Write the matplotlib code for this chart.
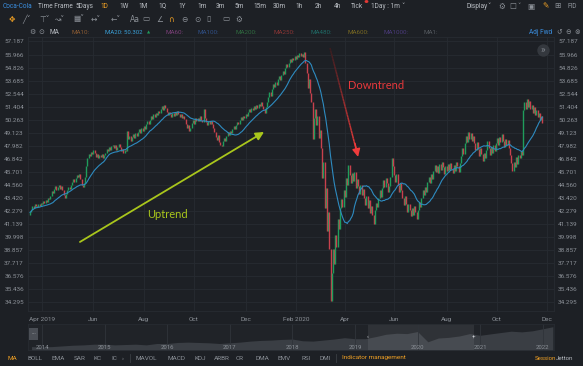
import numpy as np
import pandas as pd
import matplotlib
matplotlib.use("Agg")
import matplotlib.pyplot as plt
from matplotlib.collections import LineCollection
from matplotlib.lines import Line2D
from matplotlib.patches import Rectangle
import matplotlib.colors as mcolors

plt.rcParams['font.family'] = ['Roboto', 'DejaVu Sans']

# ---------------- data ----------------
start_date = '2019-03-18'
first_open = 41.95
closes = [
    42.15, 42.35, 42.70, 42.55, 42.90, 42.75, 42.60, 42.85, 42.70, 43.00,
    42.90, 43.15, 42.95, 43.25, 43.10, 43.40, 43.30, 43.60, 44.05, 43.85,
    44.20, 44.45, 44.10, 44.35, 44.60, 44.25, 44.50, 44.15, 43.70, 43.40,
    43.80, 44.10, 44.40, 44.20, 44.55, 44.80, 45.05, 44.85, 45.20, 45.45,
    45.25, 45.50, 45.10, 44.60, 44.40, 44.75, 45.30, 46.20, 46.90, 47.30,
    47.10, 47.45, 47.25, 47.60, 47.35, 47.05, 47.30, 46.95, 47.20, 47.00,
    47.25, 46.90, 47.15, 47.40, 47.70, 47.50, 47.85, 47.60, 47.95, 48.10,
    47.80, 48.05, 47.60, 47.85, 48.15, 47.90, 47.55, 47.75, 47.40, 47.65,
    47.50, 49.30, 48.60, 48.90, 48.40, 48.75, 49.05, 48.70, 49.10, 48.85,
    49.20, 49.45, 49.10, 49.55, 49.30, 49.70, 49.45, 49.90, 50.20, 49.95,
    50.30, 50.60, 50.35, 50.80, 50.55, 50.90, 50.70, 51.05, 50.85, 51.25,
    51.45, 51.15, 51.60, 51.30, 50.95, 50.70, 51.00, 50.75, 50.55, 50.85,
    50.60, 50.95, 50.70, 51.05, 50.80, 50.50, 50.75, 50.40, 50.65, 50.35,
    49.90, 49.55, 49.80, 49.30, 49.60, 50.00, 50.25, 49.95, 50.40, 50.15,
    50.45, 50.20, 50.60, 50.30, 50.05, 51.20, 50.40, 50.10, 49.85, 50.15,
    49.90, 50.20, 49.95, 49.60, 49.20, 48.80, 48.50, 48.95, 48.30, 48.10,
    47.95, 48.40, 48.70, 48.45, 48.90, 49.20, 48.95, 49.30, 49.10, 49.45,
    49.70, 49.50, 49.85, 50.10, 49.90, 50.25, 50.50, 50.30, 50.65, 50.45,
    50.80, 50.60, 50.95, 51.20, 50.95, 51.30, 51.10, 51.45, 51.25, 51.55,
    51.35, 51.70, 51.45, 51.80, 51.50, 51.20, 50.90, 51.40, 51.85, 52.30,
    52.70, 52.40, 52.95, 53.40, 53.15, 53.60, 53.30, 53.85, 54.10, 53.80,
    54.20, 54.55, 54.30, 54.80, 55.15, 54.90, 55.30, 55.60, 55.35, 55.70,
    55.50, 55.85, 55.60, 55.95, 55.75, 56.10, 55.85, 56.05, 55.80, 56.20,
    55.30, 54.40, 53.10, 53.90, 52.60, 51.80, 48.60, 50.40, 51.20, 49.80,
    50.60, 48.70, 49.40, 47.80, 45.20, 46.60, 42.50, 44.30, 40.50, 42.20,
    38.90, 34.40, 36.80, 38.90, 37.60, 40.20, 39.10, 41.60, 40.70, 42.50,
    43.30, 42.60, 44.10, 43.50, 45.20, 44.60, 46.30, 45.40, 44.70, 45.60,
    44.90, 45.70, 44.30, 45.10, 44.50, 43.80, 44.60, 43.70, 44.20, 43.40,
    42.80, 43.60, 42.50, 43.20, 42.10, 42.70, 41.90, 41.10, 42.40, 43.00,
    42.60, 43.40, 44.10, 43.50, 44.30, 45.00, 44.40, 45.20, 44.70, 43.90,
    44.50, 45.30, 46.90, 46.20, 45.40, 44.80, 45.50, 44.60, 43.90, 44.70,
    44.10, 43.40, 42.80, 43.60, 42.90, 42.20, 42.90, 42.40, 41.80, 42.50,
    41.90, 42.70, 42.20, 41.60, 42.40, 43.10, 42.60, 43.40, 44.10, 43.70,
    44.40, 43.90, 44.80, 45.30, 44.70, 45.50, 45.10, 45.80, 46.30, 45.70,
    46.20, 45.60, 46.40, 45.90, 46.60, 46.10, 45.50, 46.20, 45.80, 46.40,
    45.90, 46.50, 46.00, 45.60, 46.30, 45.80, 46.60, 46.20, 45.70, 46.50,
    47.10, 47.80, 47.30, 48.20, 48.90, 48.30, 49.20, 48.60, 49.10, 48.40,
    48.90, 48.20, 47.60, 48.30, 47.70, 47.10, 47.80, 47.30, 46.70, 47.40,
    46.90, 47.60, 48.40, 47.80, 47.20, 47.90, 47.40, 48.10, 47.50, 48.20,
    48.70, 48.10, 48.80, 48.30, 49.00, 48.40, 47.90, 48.60, 48.10, 48.50,
    47.80, 47.20, 46.50, 45.80, 46.60, 46.10, 47.00, 46.40, 47.20, 46.90,
    47.50, 47.20, 51.10, 51.80, 51.20, 52.10, 51.40, 51.90, 51.20, 51.60,
    50.90, 51.40, 50.70, 51.10, 50.50, 50.90, 50.30, 50.60, 50.00,
]
holidays = ['2019-04-19', '2019-05-27', '2019-07-04', '2019-09-02', '2019-11-28',
            '2019-12-25', '2020-01-01', '2020-01-20', '2020-02-17', '2020-04-10',
            '2020-05-25', '2020-07-03', '2020-09-07', '2020-11-26', '2020-12-25']
month_starts = ['2019-04-01', '2019-06-01', '2019-08-01', '2019-10-01', '2019-12-01',
                '2020-02-01', '2020-04-01', '2020-06-01', '2020-08-01', '2020-10-01',
                '2020-12-01']
month_labels = ['Apr 2019', 'Jun', 'Aug', 'Oct', 'Dec', 'Feb 2020', 'Apr', 'Jun',
                'Aug', 'Oct', 'Dec']
ytick_values = [57.187, 55.966, 54.826, 53.685, 52.544, 51.404, 50.263, 49.123,
                47.982, 46.842, 45.701, 44.560, 43.420, 42.279, 41.139, 39.998,
                38.857, 37.717, 36.576, 35.436, 34.295]
ytick_labels = ['57.187', '55.966', '54.826', '53.685', '52.544', '51.404', '50.263',
                '49.123', '47.982', '46.842', '45.701', '44.560', '43.420', '42.279',
                '41.139', '39.998', '38.857', '37.717', '36.576', '35.436', '34.295']
ma_period = 20
ma_value_text = '50.302'

nav_start = '2013-11-01'
nav_values = [31.0,
              30.5, 31.0, 32.0, 33.0, 33.5, 34.5,
              34.5, 33.5, 34.0, 34.5, 33.5, 35.5,
              35.5, 37.0, 37.5, 37.0, 36.5, 35.5,
              36.5, 37.5, 39.0, 40.0, 40.5, 41.5,
              42.0, 39.5, 39.0, 40.5, 42.0, 44.0,
              42.5, 42.5, 45.5, 49.0, 50.5, 50.0,
              53.0, 38.0, 43.5, 44.5, 46.5, 50.0,
              47.5, 49.5, 51.5, 53.5, 52.5, 54.0,
              57.0, 60.0]
nav_years = [2014, 2015, 2016, 2017, 2018, 2019, 2020, 2021, 2022]

# ---------------- style ----------------
W, H = 583, 366
BG = '#1d2025'
GRID = '#272b31'
TXT = '#8c9198'
LTXT = '#b9bdc3'
GREEN = '#1f9d5c'
RED = '#c8414d'
MA_C = '#2e8bc0'
ORANGE = '#f0a024'
BLUE_T = '#3b8fe0'
YG = '#a9c61c'
SYM = ['DejaVu Sans']

fig = plt.figure(figsize=(W / 100, H / 100), dpi=100)
fig.patch.set_facecolor(BG)


def axes_px(l, t, r, b):
    return fig.add_axes([l / W, 1 - b / H, (r - l) / W, (b - t) / H])


def ftext(x, y, s, color=TXT, size=4.7, ha='left', **kw):
    fig.text(x / W, 1 - y / H, s, color=color, fontsize=size, ha=ha, va='center', **kw)


# ---------------- main chart ----------------
cal = pd.bdate_range(start_date, '2020-12-31', freq='C', holidays=holidays)
tick_pos = [int(cal.searchsorted(pd.Timestamp(m))) for m in month_starts]

ax = axes_px(28, 37, 554, 311)
ax.set_facecolor(BG)
c = np.array(closes)
n = len(c)
idx = np.arange(n)
o = np.r_[first_open, c[:-1]]
up = c >= o
lo = np.minimum(o, c)
hi = np.maximum(o, c)
hi = np.where(hi - lo < 0.12, lo + 0.12, hi)
ax.vlines(idx, lo, hi, colors=np.where(up, GREEN, RED), linewidth=1.0, zorder=3)

ma = pd.Series(c).rolling(ma_period, min_periods=1).mean()
ax.plot(idx, ma, color=MA_C, lw=0.8, zorder=4)

ax.set_xlim(-1.7, 437.7)
ax.set_ylim(33.50, 57.545)
ax.set_yticks(ytick_values)
ax.set_yticklabels(ytick_labels)
ax.tick_params(axis='y', length=0, labelleft=True, labelright=True,
               labelsize=4.6, labelcolor=TXT, pad=3)
ax.set_xticks(tick_pos)
ax.set_xticklabels(month_labels)
ax.tick_params(axis='x', length=0, labelsize=4.6, labelcolor=TXT, pad=4)
ax.grid(True, color=GRID, lw=0.6)
ax.set_axisbelow(True)
for s in ax.spines.values():
    s.set_color(GRID)
    s.set_linewidth(0.6)

# Uptrend arrow & label
ax.annotate('', xy=(195.5, 49.21), xytext=(41.7, 39.56),
            arrowprops=dict(arrowstyle='-|>,head_length=0.6,head_width=0.3',
                            color=YG, lw=1.3, shrinkA=0, shrinkB=0, mutation_scale=8),
            zorder=6)
ax.text(115, 42.0, 'Uptrend', color=YG, fontsize=8, ha='center', va='center',
        family=['Lato', 'DejaVu Sans'], zorder=6)

# Downtrend arrow (gradient) & label
p0 = np.array([250.6, 56.58])
p1 = np.array([273.0, 47.45])
ts = np.linspace(0, 1, 40)
pts = p0 + (p1 - p0) * ts[:, None]
segs = np.stack([pts[:-1], pts[1:]], axis=1)
cmap = mcolors.LinearSegmentedColormap.from_list('dt', ['#3a1d20', '#f03c3c'])
lc = LineCollection(segs, colors=cmap(ts[:-1]), linewidths=1.1, zorder=6)
ax.add_collection(lc)
ax.annotate('', xy=(274.0, 47.02), xytext=(271.5, 48.2),
            arrowprops=dict(arrowstyle='-|>,head_length=0.6,head_width=0.3',
                            color='#f03c3c', lw=1.0, shrinkA=0, shrinkB=0, mutation_scale=8),
            zorder=6)
ax.text(289, 53.25, 'Downtrend', color='#e8393c', fontsize=8, ha='center', va='center',
        family=['Lato', 'DejaVu Sans'], zorder=6)

# scroll button
ax.scatter([0.979], [0.953], s=80, color='#34383e', transform=ax.transAxes,
           zorder=7, clip_on=False, linewidths=0)
ax.text(0.979, 0.951, '»', color='#80858c', fontsize=7, ha='center', va='center',
        transform=ax.transAxes, zorder=8)

# ---------------- navigator ----------------
nav = axes_px(28, 324, 554, 350)
nav.set_facecolor('#202328')
nd = pd.date_range(nav_start, periods=len(nav_values), freq='2MS')
ndec = nd.year + (nd.dayofyear - 1) / 365.25
nav.fill_between(ndec, nav_values, 0, color='#3a3e44', lw=0)
sel0 = cal[0].year + (cal[0].dayofyear - 1) / 365.25
sel1 = cal[n - 1].year + (cal[n - 1].dayofyear - 1) / 365.25
nav.axvspan(sel0, sel1, color='#ffffff', alpha=0.07, lw=0)
for yv in nav_years:
    nav.axvline(yv, color='#30343a', lw=0.6)
    nav.text(yv, 29.5, str(yv), color=TXT, fontsize=4.3, ha='center', va='center')
nav.text(sel0, 45, '‹', color='#d0d3d8', fontsize=4.5, ha='center', va='center')
nav.text(sel1, 45, '+', color='#d0d3d8', fontsize=4.5, ha='center', va='center')
nav.set_xlim(2013.776, 2022.18)
nav.set_ylim(26, 64)
nav.set_xticks([])
nav.set_yticks([])
for s in nav.spines.values():
    s.set_color(GRID)
    s.set_linewidth(0.6)
fig.add_artist(Rectangle((29 / W, 1 - 340 / H), 9 / W, 12 / H, color='#4a4e55', lw=0))
ftext(33.5, 334, '···', color='#c0c4c9', size=4.5, ha='center')

# ---------------- top bar ----------------
ftext(3, 6, 'Coca-Cola', color=BLUE_T)
ftext(38, 6, 'Time Frame', color=LTXT)
ftext(76, 6, '5Days', color=LTXT)
ftext(100, 6, '1D', color=ORANGE)
for xx, s in [(119, '1W'), (138, '1M'), (158, '1Q'), (178, '1Y'), (197, '1m'),
              (216, '3m'), (235, '5m'), (253, '15m'), (273, '30m'), (295, '1h'),
              (315, '2h'), (334, '4h'), (351, 'Tick')]:
    ftext(xx, 6, s, color=LTXT)
fig.add_artist(plt.Circle((366.5 / W, 1 - 1.5 / H), 1.2 / W, color='#e53935'))
ftext(371, 6, '1Day : 1m', color=LTXT)
ftext(401, 6, '˅', color=LTXT, family=SYM)
ftext(466, 6, 'Display', color=LTXT)
ftext(487, 6, '˅', color=LTXT, family=SYM)
ftext(498, 6, '⚙', color=TXT, size=5.5, family=SYM)
ftext(509, 6, '☐', color=TXT, size=5.5, family=SYM)
ftext(517, 6, '˅', color=TXT, family=SYM)
ftext(527, 6, '▣', color=TXT, size=5.5, family=SYM)
ftext(542, 6, '✎', color=ORANGE, size=5.5, family=SYM)
ftext(554, 6, '⊞', color=TXT, size=5.5, family=SYM)
ftext(568, 6, 'FID', color=TXT)

icons = [(9, '✥', ORANGE), (22, '╱˅', TXT), (39, '⊤˅', TXT), (55, '↝˅', TXT),
         (73, '▦˅', TXT), (91, '↔˅', TXT), (111, '←˅', TXT), (130, 'Aa', TXT),
         (142, '▭', TXT), (156, '∠', TXT), (168, '∩', ORANGE), (181, '⊖', TXT),
         (194, '⊙', TXT), (206, '▯', TXT), (222, '▭', TXT), (235, '⚙', TXT)]
for xx, s, col in icons:
    ftext(xx, 19, s, color=col, size=5.5, family=SYM)

# MA legend row
ftext(29, 32, '⚙', color=TXT, size=5.0, family=SYM)
ftext(38, 32, '⊙', color=TXT, size=5.0, family=SYM)
ftext(49, 32, 'MA', color=LTXT, size=4.7)
ma_items = [(71, 'MA10:', '#8a5a32'), (166, 'MA60:', '#7a3f78'), (198, 'MA100:', '#2f4f86'),
            (236, 'MA200:', '#2f6b3f'), (273, 'MA250:', '#8a3535'), (310, 'MA480:', '#1f6b66'),
            (347, 'MA600:', '#7a6a22'), (384, 'MA1000:', '#4a3a7a'), (424, 'MA1:', '#555a60')]
for xx, s, col in ma_items:
    ftext(xx, 32, s, color=col, size=4.5)
ftext(105, 32, 'MA%d: %s' % (ma_period, ma_value_text), color='#3aa0d8', size=4.3)
ftext(147, 32, '▲', color=GREEN, size=3.0, family=SYM)
ftext(529, 32, 'Adj Fwd', color=BLUE_T, size=4.7)
ftext(556, 32, '↺', color=TXT, size=4.8, family=SYM)
ftext(565, 32, '⊖', color=TXT, size=4.8, family=SYM)
ftext(574, 32, '⊗', color=TXT, size=4.8, family=SYM)

# ---------------- bottom bar ----------------
bottom_items = [(8, 'MA', ORANGE), (27, 'BOLL', TXT), (51, 'EMA', TXT), (74, 'SAR', TXT),
                (94, 'KC', TXT), (111, 'IC', TXT), (122, '›', TXT), (135, 'MAVOL', TXT),
                (167, 'MACD', TXT), (194, 'KDJ', TXT), (214, 'ARBR', TXT), (236, 'CR', TXT),
                (256, 'DMA', TXT), (278, 'EMV', TXT), (301, 'RSI', TXT), (320, 'DMI', TXT),
                (342, 'Indicator management', ORANGE)]
for xx, s, col in bottom_items:
    ftext(xx, 358, s, color=col, size=4.6)
ftext(535, 358, 'Session', color=ORANGE, size=4.4)
ftext(556, 358, 'Jetton', color=LTXT, size=4.4)
fig.add_artist(Line2D([130 / W, 130 / W], [1 - 354 / H, 1 - 362 / H], color='#3a3e44', lw=0.6))
fig.add_artist(Line2D([336 / W, 336 / W], [1 - 354 / H, 1 - 362 / H], color='#3a3e44', lw=0.6))

fig.savefig('out.png', dpi=100, facecolor=BG)
